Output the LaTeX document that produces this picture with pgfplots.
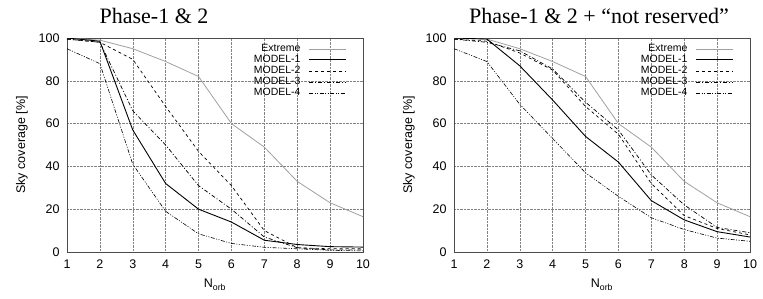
\documentclass[border=0pt]{standalone}
\usepackage{pgfplots}
\pgfplotsset{compat=1.18}
\usepackage{fontspec}
\setmainfont{Liberation Sans}
\newfontfamily\titlefont{Liberation Serif}
\definecolor{extgray}{RGB}{160,160,160}
\definecolor{gridgray}{RGB}{130,130,130}
\newcommand{\legtxt}[1]{#1\hspace*{7pt}}
\pgfplotsset{
  myaxis/.style={
    scale only axis, width=296pt, height=214pt,
    xmin=1, xmax=10, ymin=0, ymax=100,
    xtick={1,...,10}, ytick={0,20,...,100},
    grid=major,
    major grid style={gridgray, densely dotted, line width=0.5pt},
    axis line style={draw=black!70, line width=0.7pt},
    tick style={draw=none},
    tick label style={font=\fontsize{12.5}{14}\selectfont},
    xticklabel style={yshift=-4pt},
    yticklabel style={xshift=-4pt},
    /pgf/number format/assume math mode=true,
    xlabel={N\textsubscript{orb}},
    ylabel={Sky coverage [\%]},
    label style={font=\fontsize{12.5}{14}\selectfont},
    xlabel style={yshift=-4pt},
    ylabel style={yshift=4pt},
    legend cell align=right,
    legend plot pos=right,
    legend style={draw=none, fill=none, at={(rel axis cs:0.955,0.985)}, anchor=north east,
      font=\fontsize{10.5}{12}\selectfont,
      nodes={inner sep=1pt, text height=7.5pt, text depth=1.5pt}},
    legend image code/.code={\draw[#1] (0pt,0pt) -- (37pt,0pt);},
    title style={font=\titlefont\fontsize{22}{24}\selectfont, anchor=base, yshift=9pt},
  },
  ext/.style={extgray, line width=0.8pt},
  m1/.style={black, line width=0.9pt},
  m2/.style={black, dashed, line width=0.7pt},
  m3/.style={black, dash pattern=on 4pt off 2pt on 1pt off 2pt, line width=0.7pt},
  m4/.style={black, dash pattern=on 4pt off 1.5pt on 1pt off 1.5pt on 1pt off 1.5pt, line width=0.6pt},
}
\begin{document}
\begin{tikzpicture}
\useasboundingbox (-67pt,-46pt) rectangle (696pt,252pt);
\begin{axis}[myaxis, title={Phase-1 \& 2}, title style={at={(0.294,1)}}]
\addplot[ext] coordinates {(1,100)(2,99)(3,95)(4,89)(5,82)(6,60)(7,49)(8,33)(9,23)(10,16.5)};
\addlegendentry{\legtxt{Extreme}}
\addplot[m1] coordinates {(1,100)(2,98.5)(3,57)(4,32)(5,20)(6,14)(7,5.5)(8,3.5)(9,2.5)(10,2.3)};
\addlegendentry{\legtxt{MODEL-1}}
\addplot[m2] coordinates {(1,99.5)(2,98)(3,90)(4,68)(5,47)(6,31)(7,10)(8,2)(9,1.5)(10,1.5)};
\addlegendentry{\legtxt{MODEL-2}}
\addplot[m3] coordinates {(1,99.5)(2,98)(3,66)(4,50)(5,31)(6,20)(7,7)(8,2)(9,1)(10,1)};
\addlegendentry{\legtxt{MODEL-3}}
\addplot[m4] coordinates {(1,95)(2,88)(3,41)(4,19)(5,8.5)(6,4)(7,2.2)(8,1.5)(9,0.8)(10,0.5)};
\addlegendentry{\legtxt{MODEL-4}}
\end{axis}
\begin{axis}[myaxis, at={(387pt,0pt)}, title={Phase-1 \& 2 + “not reserved”}, title style={at={(0.49,1)}}]
\addplot[ext] coordinates {(1,100)(2,99.5)(3,95)(4,89)(5,82)(6,60)(7,49)(8,33)(9,23)(10,16.5)};
\addlegendentry{\legtxt{Extreme}}
\addplot[m1] coordinates {(1,100)(2,99.5)(3,87)(4,71)(5,54)(6,42)(7,24)(8,15)(9,9.5)(10,7)};
\addlegendentry{\legtxt{MODEL-1}}
\addplot[m2] coordinates {(1,99.5)(2,98.5)(3,93)(4,85)(5,68)(6,55)(7,32)(8,17)(9,11)(10,8)};
\addlegendentry{\legtxt{MODEL-2}}
\addplot[m3] coordinates {(1,99.5)(2,98)(3,94)(4,85.5)(5,70)(6,57)(7,36)(8,22)(9,11.5)(10,9)};
\addlegendentry{\legtxt{MODEL-3}}
\addplot[m4] coordinates {(1,95)(2,89)(3,69)(4,53)(5,37)(6,26)(7,16)(8,10.5)(9,6.5)(10,5)};
\addlegendentry{\legtxt{MODEL-4}}
\end{axis}
\end{tikzpicture}
\end{document}
